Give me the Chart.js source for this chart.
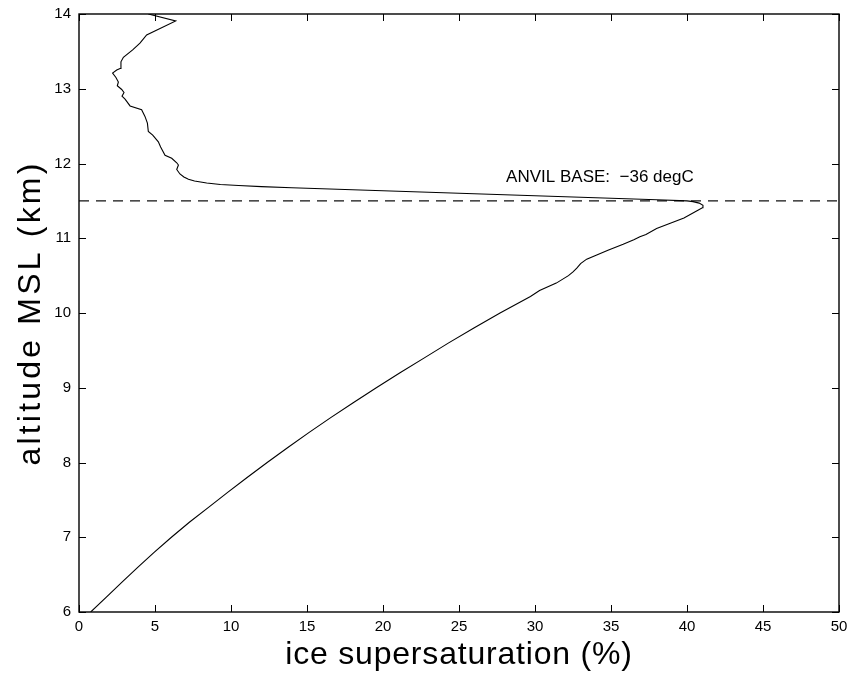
<!DOCTYPE html>
<html>
<head>
<meta charset="utf-8">
<script src="https://cdn.jsdelivr.net/npm/chart.js@4/dist/chart.umd.min.js"></script>
<style>
  html, body { margin: 0; padding: 0; background: #ffffff; }
  canvas { display: block; }
</style>
</head>
<body>
<canvas id="c" width="849" height="673"></canvas>
<script>
// ---- data ----
const altitudeKm = [
  6.00, 6.20, 6.40, 6.60, 6.80, 7.00, 7.20, 7.40, 7.60, 7.80, 8.00, 8.20, 8.40,
  8.60, 8.80, 9.00, 9.20, 9.40, 9.60, 9.80, 10.00, 10.22, 10.30, 10.40, 10.50,
  10.55, 10.60, 10.66, 10.72, 10.78, 10.84, 10.92, 10.98, 11.02, 11.05, 11.13,
  11.20, 11.27, 11.36, 11.41, 11.44, 11.47, 11.49, 11.50, 11.515, 11.535, 11.555,
  11.575, 11.595, 11.615, 11.635, 11.655, 11.675, 11.69, 11.705, 11.72, 11.74,
  11.765, 11.79, 11.82, 11.86, 11.92, 11.98, 12.01, 12.07, 12.11, 12.22, 12.29,
  12.38, 12.43, 12.54, 12.63, 12.72, 12.77, 12.86, 12.90, 12.95, 12.99, 13.04,
  13.09, 13.15, 13.21, 13.25, 13.27, 13.36, 13.42, 13.52, 13.61, 13.72, 13.906,
  14.00
];
const iceSupersat = [
  0.77, 1.80, 2.83, 3.88, 4.96, 6.08, 7.26, 8.52, 9.78, 11.06, 12.38, 13.74, 15.12,
  16.56, 18.04, 19.56, 21.12, 22.72, 24.32, 25.98, 27.70, 29.70, 30.30, 31.40, 32.20,
  32.50, 32.75, 33.00, 33.40, 34.10, 34.80, 35.80, 36.50, 36.90, 37.30, 38.00,
  38.90, 39.80, 40.60, 41.04, 41.05, 40.80, 40.40, 40.00, 38.00, 35.00, 32.00,
  29.00, 26.00, 23.00, 20.00, 17.00, 14.00, 12.00, 10.50, 9.30, 8.40,
  7.60, 7.20, 6.90, 6.64, 6.43, 6.54, 6.43, 6.10, 5.66, 5.37, 5.22,
  4.85, 4.56, 4.50, 4.34, 4.12, 3.36, 3.03, 2.83, 2.96, 2.81, 2.52,
  2.59, 2.43, 2.21, 2.48, 2.70, 2.76, 2.92, 3.53, 4.01, 4.45, 6.36,
  4.56
];
const anvilBaseKm = [11.5];
const anvilLineX = [0, 50];
const anvilLabel = "ANVIL BASE:  \u221236 degC";
const anvilLabelPos = [28.1, 11.82];
const xTickValues = [0, 5, 10, 15, 20, 25, 30, 35, 40, 45, 50];
const yTickValues = [6, 7, 8, 9, 10, 11, 12, 13, 14];
const xTitle = "ice supersaturation (%)";
const yTitle = "altitude MSL (km)";

const FONT = "'Liberation Sans', Arial, Helvetica, sans-serif";

const profile = altitudeKm.map((a, i) => ({ x: iceSupersat[i], y: a }));
const anvilLine = anvilLineX.map(x => ({ x: x, y: anvilBaseKm[0] }));

const framePlugin = {
  id: 'frame',
  beforeDraw(chart) {
    // letter spacing only for the axis titles
    const patch = (scale, spacing) => {
      if (!scale || scale._patchedTitle) return;
      const orig = scale.drawTitle.bind(scale);
      scale.drawTitle = function () {
        const ctx = this.ctx;
        ctx.save();
        try { ctx.letterSpacing = spacing; } catch (e) {}
        orig();
        ctx.restore();
      };
      scale._patchedTitle = true;
    };
    patch(chart.scales.x, '0.8px');
    patch(chart.scales.y, '3.2px');
  },
  afterDraw(chart) {
    const ctx = chart.ctx;
    const a = chart.chartArea;
    const xs = chart.scales.x, ys = chart.scales.y;
    ctx.save();
    ctx.strokeStyle = '#000';
    ctx.lineWidth = 1;
    const tl = 7;
    ctx.beginPath();
    xTickValues.forEach(v => {
      const p = Math.round(xs.getPixelForValue(v)) + 0.5;
      ctx.moveTo(p, a.bottom); ctx.lineTo(p, a.bottom - tl);
      ctx.moveTo(p, a.top); ctx.lineTo(p, a.top + tl);
    });
    yTickValues.forEach(v => {
      const p = Math.round(ys.getPixelForValue(v)) + 0.5;
      ctx.moveTo(a.left, p); ctx.lineTo(a.left + tl, p);
      ctx.moveTo(a.right, p); ctx.lineTo(a.right - tl, p);
    });
    ctx.stroke();
    ctx.lineWidth = 1.4;
    ctx.strokeRect(a.left, a.top, a.right - a.left, a.bottom - a.top);
    // annotation text
    ctx.fillStyle = '#000';
    ctx.font = '17px ' + FONT;
    ctx.textAlign = 'left';
    ctx.textBaseline = 'middle';
    ctx.fillText(anvilLabel, xs.getPixelForValue(anvilLabelPos[0]), ys.getPixelForValue(anvilLabelPos[1]));
    ctx.restore();
  }
};

new Chart(document.getElementById('c'), {
  type: 'scatter',
  data: {
    datasets: [
      {
        data: profile,
        showLine: true,
        borderColor: '#000',
        borderWidth: 1.1,
        pointRadius: 0,
        tension: 0,
        fill: false
      },
      {
        data: anvilLine,
        showLine: true,
        borderColor: '#111',
        borderWidth: 1.2,
        borderDash: [10, 7],
        pointRadius: 0,
        fill: false
      }
    ]
  },
  options: {
    responsive: false,
    animation: false,
    devicePixelRatio: 1,
    layout: { padding: { left: 0, right: 10, top: 14, bottom: 0 } },
    plugins: { legend: { display: false }, tooltip: { enabled: false } },
    scales: {
      x: {
        type: 'linear',
        min: 0, max: 50,
        afterBuildTicks: s => { s.ticks = xTickValues.map(v => ({ value: v })); },
        afterFit: s => { s.height = 61; s.paddingLeft = 0; s.paddingRight = 0; },
        grid: { display: false, drawTicks: false },
        border: { display: false },
        ticks: { color: '#000', font: { family: FONT, size: 15 }, padding: 6, maxRotation: 0, autoSkip: false },
        title: { display: true, text: xTitle, color: '#000', font: { family: FONT, size: 32, lineHeight: 1 }, padding: { top: 0, bottom: 2 } }
      },
      y: {
        type: 'linear',
        min: 6, max: 14,
        afterBuildTicks: s => { s.ticks = yTickValues.map(v => ({ value: v })); },
        afterFit: s => { s.width = 79; s.paddingTop = 0; s.paddingBottom = 0; },
        grid: { display: false, drawTicks: false },
        border: { display: false },
        ticks: { color: '#000', font: { family: FONT, size: 15 }, padding: 8, autoSkip: false },
        title: { display: true, text: yTitle, color: '#000', font: { family: FONT, size: 32, lineHeight: 1 }, padding: { top: 15, bottom: 0 } }
      }
    }
  },
  plugins: [framePlugin]
});
</script>
</body>
</html>
